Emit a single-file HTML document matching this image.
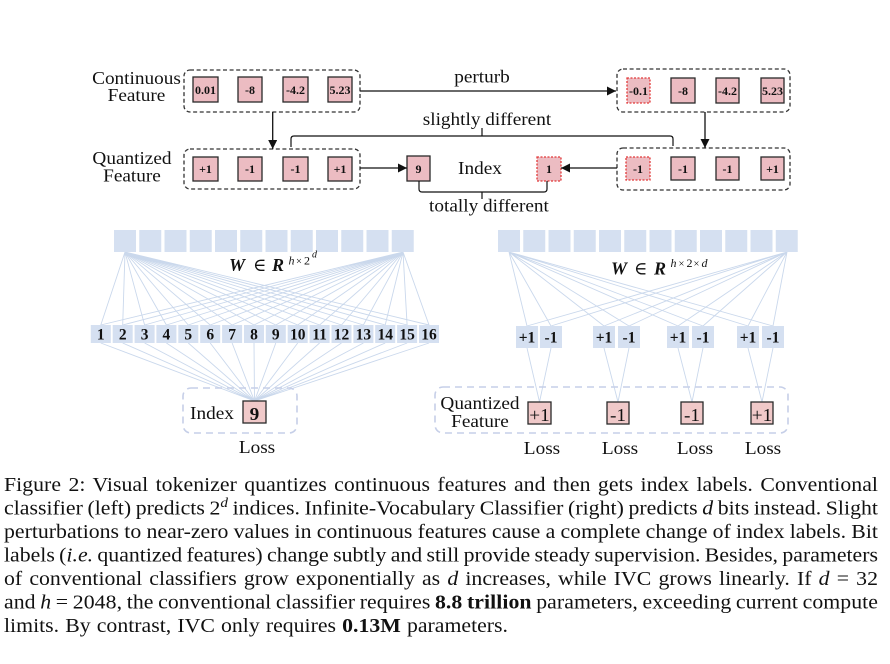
<!DOCTYPE html>
<html><head><meta charset="utf-8">
<style>
html,body{margin:0;padding:0;background:#fff;width:890px;height:664px;overflow:hidden}
.lbl text{transform-box:fill-box;transform-origin:center;transform:scaleX(1.07)}
</style>
</head>
<body>
<svg width="890" height="664" viewBox="0 0 890 664" xmlns="http://www.w3.org/2000/svg" font-family="'Liberation Serif', 'DejaVu Serif', serif" fill="#111" style="position:absolute;left:0;top:0">
<defs>
<marker id="ah" viewBox="0 0 10 10" refX="10" refY="5" markerWidth="9" markerHeight="9" markerUnits="userSpaceOnUse" orient="auto"><path d="M0,0L10,5L0,10z" fill="#111"/></marker>
</defs>

<!-- ============ TOP SECTION ============ -->
<g class="lbl" font-size="18" text-anchor="middle">
<text x="136.5" y="84">Continuous</text>
<text x="136.5" y="101">Feature</text>
<text x="132" y="164">Quantized</text>
<text x="132" y="181.5">Feature</text>
<text x="482" y="82.5">perturb</text>
<text x="487" y="125">slightly different</text>
<text x="480" y="174">Index</text>
<text x="489" y="211.5">totally different</text>
</g>

<!-- dashed group boxes -->
<g fill="none" stroke="#333" stroke-width="1.3" stroke-dasharray="4 2.6">
<rect x="184" y="70" width="176" height="42" rx="6"/>
<rect x="184" y="149" width="176" height="40" rx="6"/>
<rect x="617" y="69" width="173" height="43" rx="6"/>
<rect x="617" y="148" width="173" height="42" rx="6"/>
</g>

<!-- value boxes -->
<g fill="#ecbcc2" stroke="#2a2a2a" stroke-width="1.3">
<rect x="193" y="77" width="25" height="25"/>
<rect x="238" y="77" width="24" height="25"/>
<rect x="283" y="77" width="25" height="25"/>
<rect x="328" y="77" width="24" height="25"/>
<rect x="671" y="78" width="24" height="25"/>
<rect x="716" y="78" width="23" height="25"/>
<rect x="761" y="78" width="23" height="25"/>
<rect x="193" y="157" width="25" height="24"/>
<rect x="238" y="157" width="24" height="24"/>
<rect x="283" y="157" width="25" height="24"/>
<rect x="328" y="157" width="24" height="24"/>
<rect x="671" y="157" width="24" height="23"/>
<rect x="716" y="157" width="23" height="23"/>
<rect x="761" y="157" width="23" height="23"/>
<rect x="407" y="156" width="23" height="25"/>
</g>
<g fill="#ecbcc2" stroke="#e23a3a" stroke-width="1.3" stroke-dasharray="2 1.5">
<rect x="627" y="78" width="23" height="25"/>
<rect x="626" y="157" width="24" height="23"/>
<rect x="537" y="157" width="24" height="24"/>
</g>
<g font-size="12" font-weight="bold" text-anchor="middle">
<text x="205.5" y="94">0.01</text>
<text x="250" y="94">-8</text>
<text x="295.5" y="94">-4.2</text>
<text x="340" y="94">5.23</text>
<text x="638.5" y="95">-0.1</text>
<text x="683" y="95">-8</text>
<text x="727.5" y="95">-4.2</text>
<text x="772.5" y="95">5.23</text>
<text x="205.5" y="173">+1</text>
<text x="250" y="173">-1</text>
<text x="295.5" y="173">-1</text>
<text x="340" y="173">+1</text>
<text x="638" y="173">-1</text>
<text x="683" y="173">-1</text>
<text x="727.5" y="173">-1</text>
<text x="772.5" y="173">+1</text>
<text x="418.5" y="173">9</text>
<text x="549" y="173">1</text>
</g>

<!-- arrows -->
<g stroke="#111" stroke-width="1.3" fill="none">
<path d="M360 91H616" marker-end="url(#ah)"/>
<path d="M272.7 112V149" marker-end="url(#ah)"/>
<path d="M705 112V148" marker-end="url(#ah)"/>
<path d="M360 168H407" marker-end="url(#ah)"/>
<path d="M617 168H561" marker-end="url(#ah)"/>
<path d="M291 147V139Q291 136 294 136H670Q673 136 673 139V146M482 136V128" stroke-width="1.2"/>
<path d="M419 181V189Q419 192 422 192H544Q547 192 547 189V181M482 192V199" stroke-width="1.2"/>
</g>

<!-- ============ NETWORK LINES ============ -->
<g stroke="#cad8ec" stroke-width="0.9" fill="none">
<path d="M125 252L100.8 325M125 252L122.7 325M125 252L144.6 325M125 252L166.4 325M125 252L188.3 325M125 252L210.2 325M125 252L232.1 325M125 252L254 325M125 252L275.8 325M125 252L297.7 325M125 252L319.6 325M125 252L341.5 325M125 252L363.4 325M125 252L385.2 325M125 252L407.1 325M125 252L429 325"/>
<path d="M403 252L100.8 325M403 252L122.7 325M403 252L144.6 325M403 252L166.4 325M403 252L188.3 325M403 252L210.2 325M403 252L232.1 325M403 252L254 325M403 252L275.8 325M403 252L297.7 325M403 252L319.6 325M403 252L341.5 325M403 252L363.4 325M403 252L385.2 325M403 252L407.1 325M403 252L429 325"/>
<path d="M100.8 343L254.5 401M122.7 343L254.5 401M144.6 343L254.5 401M166.4 343L254.5 401M188.3 343L254.5 401M210.2 343L254.5 401M232.1 343L254.5 401M254 343L254.5 401M275.8 343L254.5 401M297.7 343L254.5 401M319.6 343L254.5 401M341.5 343L254.5 401M363.4 343L254.5 401M385.2 343L254.5 401M407.1 343L254.5 401M429 343L254.5 401"/>
<path d="M509 252L527 326M509 252L551 326M509 252L604 326M509 252L629 326M509 252L678 326M509 252L703 326M509 252L748 326M509 252L773 326"/>
<path d="M787 252L527 326M787 252L551 326M787 252L604 326M787 252L629 326M787 252L678 326M787 252L703 326M787 252L748 326M787 252L773 326"/>
<path d="M527 348L539.5 402M551 348L539.5 402M604 348L618 402M629 348L618 402M678 348L692 402M703 348L692 402M748 348L762 402M773 348L762 402"/>
</g>

<!-- top rows of squares -->
<g fill="#d5e0f1">
<rect x="114" y="230" width="22" height="22"/>
<rect x="139.25" y="230" width="22" height="22"/>
<rect x="164.5" y="230" width="22" height="22"/>
<rect x="189.75" y="230" width="22" height="22"/>
<rect x="215" y="230" width="22" height="22"/>
<rect x="240.25" y="230" width="22" height="22"/>
<rect x="265.5" y="230" width="22" height="22"/>
<rect x="290.75" y="230" width="22" height="22"/>
<rect x="316" y="230" width="22" height="22"/>
<rect x="341.25" y="230" width="22" height="22"/>
<rect x="366.5" y="230" width="22" height="22"/>
<rect x="391.75" y="230" width="22" height="22"/>
<rect x="498" y="230" width="22" height="22"/>
<rect x="523.25" y="230" width="22" height="22"/>
<rect x="548.5" y="230" width="22" height="22"/>
<rect x="573.75" y="230" width="22" height="22"/>
<rect x="599" y="230" width="22" height="22"/>
<rect x="624.25" y="230" width="22" height="22"/>
<rect x="649.5" y="230" width="22" height="22"/>
<rect x="674.75" y="230" width="22" height="22"/>
<rect x="700" y="230" width="22" height="22"/>
<rect x="725.25" y="230" width="22" height="22"/>
<rect x="750.5" y="230" width="22" height="22"/>
<rect x="775.75" y="230" width="22" height="22"/>
<!-- left bottom 16 -->
<rect x="90.8" y="325" width="20" height="18"/>
<rect x="112.7" y="325" width="20" height="18"/>
<rect x="134.6" y="325" width="20" height="18"/>
<rect x="156.4" y="325" width="20" height="18"/>
<rect x="178.3" y="325" width="20" height="18"/>
<rect x="200.2" y="325" width="20" height="18"/>
<rect x="222.1" y="325" width="20" height="18"/>
<rect x="244" y="325" width="20" height="18"/>
<rect x="265.8" y="325" width="20" height="18"/>
<rect x="287.7" y="325" width="20" height="18"/>
<rect x="309.6" y="325" width="20" height="18"/>
<rect x="331.5" y="325" width="20" height="18"/>
<rect x="353.4" y="325" width="20" height="18"/>
<rect x="375.2" y="325" width="20" height="18"/>
<rect x="397.1" y="325" width="20" height="18"/>
<rect x="419" y="325" width="20" height="18"/>
<!-- bit squares -->
<rect x="516" y="326" width="22" height="22"/>
<rect x="540" y="326" width="22" height="22"/>
<rect x="593" y="326" width="22" height="22"/>
<rect x="618" y="326" width="22" height="22"/>
<rect x="667" y="326" width="22" height="22"/>
<rect x="692" y="326" width="22" height="22"/>
<rect x="737" y="326" width="22" height="22"/>
<rect x="762" y="326" width="22" height="22"/>
</g>

<!-- W labels -->
<text y="271" font-size="18"><tspan x="229" font-weight="bold" font-style="italic">W</tspan><tspan x="253">∈</tspan><tspan x="272" font-weight="bold" font-style="italic">R</tspan><tspan x="288.5" y="264.5" font-size="12" font-style="italic">h</tspan><tspan x="296" y="264.5" font-size="10.5">×</tspan><tspan x="304" y="264.5" font-size="12">2</tspan><tspan x="312" y="257.5" font-size="10" font-style="italic">d</tspan></text>
<text y="274.5" font-size="18"><tspan x="611" font-weight="bold" font-style="italic">W</tspan><tspan x="634">∈</tspan><tspan x="654" font-weight="bold" font-style="italic">R</tspan><tspan x="670.5" y="267" font-size="12" font-style="italic">h</tspan><tspan x="678.5" y="267" font-size="10.5">×</tspan><tspan x="686.5" y="267" font-size="12">2</tspan><tspan x="693.5" y="267" font-size="10.5">×</tspan><tspan x="701.5" y="267" font-size="12" font-style="italic">d</tspan></text>

<!-- numbers -->
<g font-size="15.5" font-weight="bold" text-anchor="middle">
<text x="100.8" y="339.5">1</text>
<text x="122.7" y="339.5">2</text>
<text x="144.6" y="339.5">3</text>
<text x="166.4" y="339.5">4</text>
<text x="188.3" y="339.5">5</text>
<text x="210.2" y="339.5">6</text>
<text x="232.1" y="339.5">7</text>
<text x="254" y="339.5">8</text>
<text x="275.8" y="339.5">9</text>
<text x="297.7" y="339.5">10</text>
<text x="319.6" y="339.5">11</text>
<text x="341.5" y="339.5">12</text>
<text x="363.4" y="339.5">13</text>
<text x="385.2" y="339.5">14</text>
<text x="407.1" y="339.5">15</text>
<text x="429" y="339.5">16</text>
<text x="527" y="342.5">+1</text>
<text x="551" y="342.5">-1</text>
<text x="604" y="342.5">+1</text>
<text x="629" y="342.5">-1</text>
<text x="678" y="342.5">+1</text>
<text x="703" y="342.5">-1</text>
<text x="748" y="342.5">+1</text>
<text x="773" y="342.5">-1</text>
</g>

<!-- lower dashed boxes -->
<g fill="none" stroke="#c6cfe8" stroke-width="1.6" stroke-dasharray="7 5">
<rect x="183" y="388" width="114" height="45" rx="8"/>
<rect x="435" y="387" width="353" height="46" rx="8"/>
</g>
<g fill="#f0c9c9" stroke="#2a2a2a" stroke-width="1.3">
<rect x="243" y="401" width="23" height="22"/>
<rect x="528" y="402" width="23" height="22"/>
<rect x="607" y="402" width="22" height="22"/>
<rect x="681" y="402" width="22" height="22"/>
<rect x="751" y="402" width="22" height="22"/>
</g>
<g class="lbl" font-size="18" text-anchor="middle">
<text x="212" y="419">Index</text>
<text x="254.5" y="420" font-weight="bold">9</text>
<text x="257" y="453">Loss</text>
<text x="480" y="409">Quantized</text>
<text x="480" y="427">Feature</text>
<text x="539.5" y="421">+1</text>
<text x="618" y="421">-1</text>
<text x="692" y="421">-1</text>
<text x="762" y="421">+1</text>
<text x="542" y="454">Loss</text>
<text x="620" y="454">Loss</text>
<text x="695" y="454">Loss</text>
<text x="763" y="454">Loss</text>
</g>

<!-- ============ CAPTION ============ -->
<g transform="translate(4,0) scale(1.09,1)" font-size="20" fill="#111">
<text x="0" y="491" textLength="801.8" lengthAdjust="spacing" word-spacing="1.8">Figure 2: Visual tokenizer quantizes continuous features and then gets index labels. Conventional</text>
<text x="0" y="514.5" textLength="801.8" lengthAdjust="spacing" word-spacing="-0.8">classifier (left) predicts 2<tspan dy="-7.5" font-size="14" font-style="italic">d</tspan><tspan dy="7.5"> indices. Infinite-Vocabulary Classifier (right) predicts </tspan><tspan font-style="italic">d</tspan> bits instead. Slight</text>
<text x="0" y="538" textLength="801.8" lengthAdjust="spacing" word-spacing="-0.2">perturbations to near-zero values in continuous features cause a complete change of index labels. Bit</text>
<text x="0" y="561.5" textLength="801.8" lengthAdjust="spacing" word-spacing="-1">labels (<tspan font-style="italic">i.e.</tspan> quantized features) change subtly and still provide steady supervision. Besides, parameters</text>
<text x="0" y="585" textLength="801.8" lengthAdjust="spacing" word-spacing="1.5">of conventional classifiers grow exponentially as <tspan font-style="italic">d</tspan> increases, while IVC grows linearly. If <tspan font-style="italic">d</tspan> = 32</text>
<text x="0" y="608.5" textLength="801.8" lengthAdjust="spacing" word-spacing="-0.8">and <tspan font-style="italic">h</tspan> = 2048, the conventional classifier requires <tspan font-weight="bold">8.8 trillion</tspan> parameters, exceeding current compute</text>
<text x="0" y="632" textLength="462.4" lengthAdjust="spacing" word-spacing="0.6">limits. By contrast, IVC only requires <tspan font-weight="bold">0.13M</tspan> parameters.</text>
</g>
</svg>
</body>
</html>
